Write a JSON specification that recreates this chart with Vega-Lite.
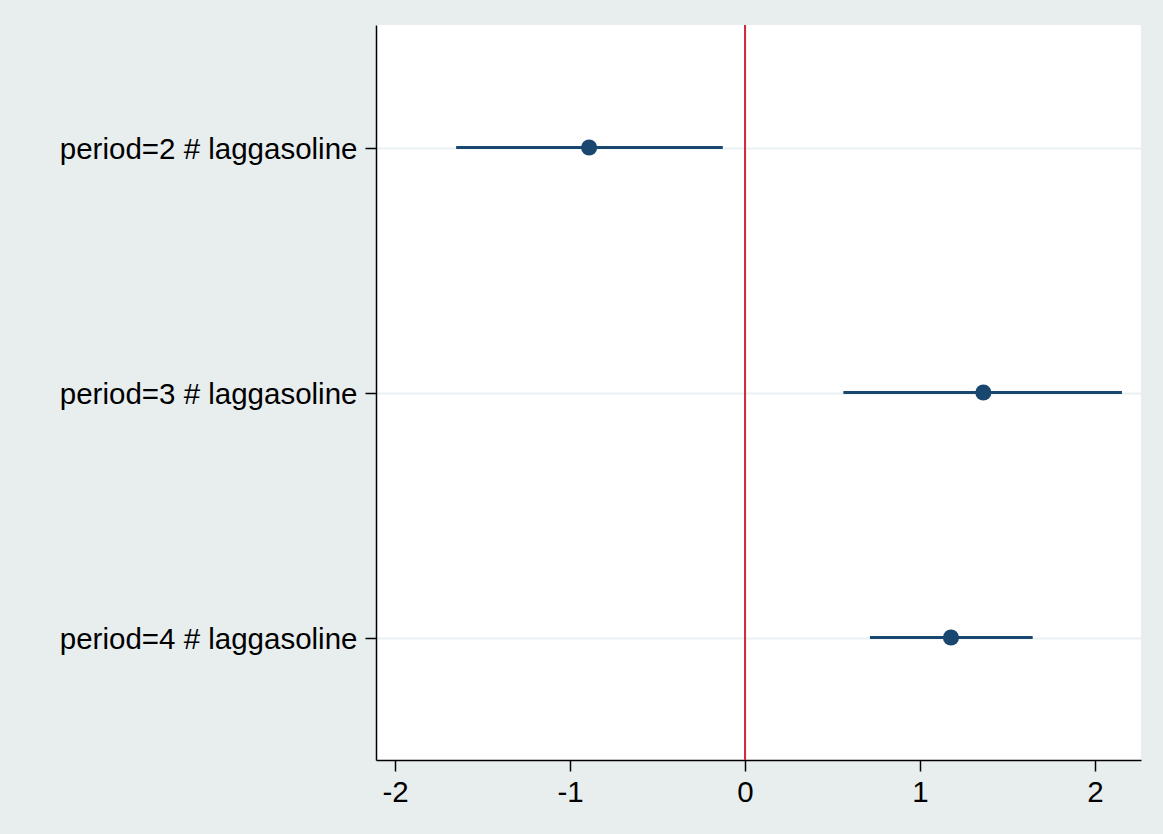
{
  "$schema": "https://vega.github.io/schema/vega-lite/v6.json",
  "width": 765,
  "height": 735,
  "autosize": {"type": "none"},
  "padding": {"left": 376, "top": 25, "right": 22, "bottom": 74},
  "background": "#e8eeee",
  "config": {
    "view": {"fill": "white", "stroke": null},
    "font": "Liberation Sans",
    "axis": {"labelColor": "black", "labelFont": "Liberation Sans"}
  },
  "data": {
    "values": [
      {"term": "period=2 # laggasoline", "est": -0.891, "lo": -1.651, "hi": -0.127},
      {"term": "period=3 # laggasoline", "est": 1.362, "lo": 0.562, "hi": 2.154},
      {"term": "period=4 # laggasoline", "est": 1.177, "lo": 0.714, "hi": 1.644}
    ]
  },
  "encoding": {
    "y": {
      "field": "term",
      "type": "nominal",
      "sort": null,
      "scale": {"type": "point", "padding": 0.5},
      "axis": {
        "title": null,
        "grid": true,
        "gridColor": "#eaf1f2",
        "gridWidth": 2,
        "domainColor": "black",
        "domainWidth": 1.5,
        "tickColor": "black",
        "tickWidth": 1.5,
        "tickSize": 11,
        "labelFontSize": 29.5,
        "labelLimit": 0,
        "labelPadding": 8,
        "labelOffset": 2
      }
    }
  },
  "layer": [
    {
      "mark": {"type": "rule", "color": "#d42a3f", "strokeWidth": 2},
      "encoding": {"x": {"datum": 0}, "y": {"value": 0}, "y2": {"value": 735}}
    },
    {
      "mark": {"type": "rule", "color": "#1a476f", "strokeWidth": 3},
      "encoding": {
        "x": {
          "field": "lo",
          "type": "quantitative",
          "scale": {"domain": [-2.109, 2.263], "nice": false, "zero": false},
          "axis": {
            "title": null,
            "values": [-2, -1, 0, 1, 2],
            "labelExpr": "datum.value + ''",
            "grid": false,
            "domainColor": "black",
            "domainWidth": 1.5,
            "tickColor": "black",
            "tickWidth": 1.5,
            "tickSize": 11,
            "labelFontSize": 29.5,
            "labelPadding": 7
          }
        },
        "x2": {"field": "hi"}
      }
    },
    {
      "mark": {"type": "circle", "color": "#1a476f", "opacity": 1, "size": 260},
      "encoding": {"x": {"field": "est", "type": "quantitative"}}
    }
  ]
}
